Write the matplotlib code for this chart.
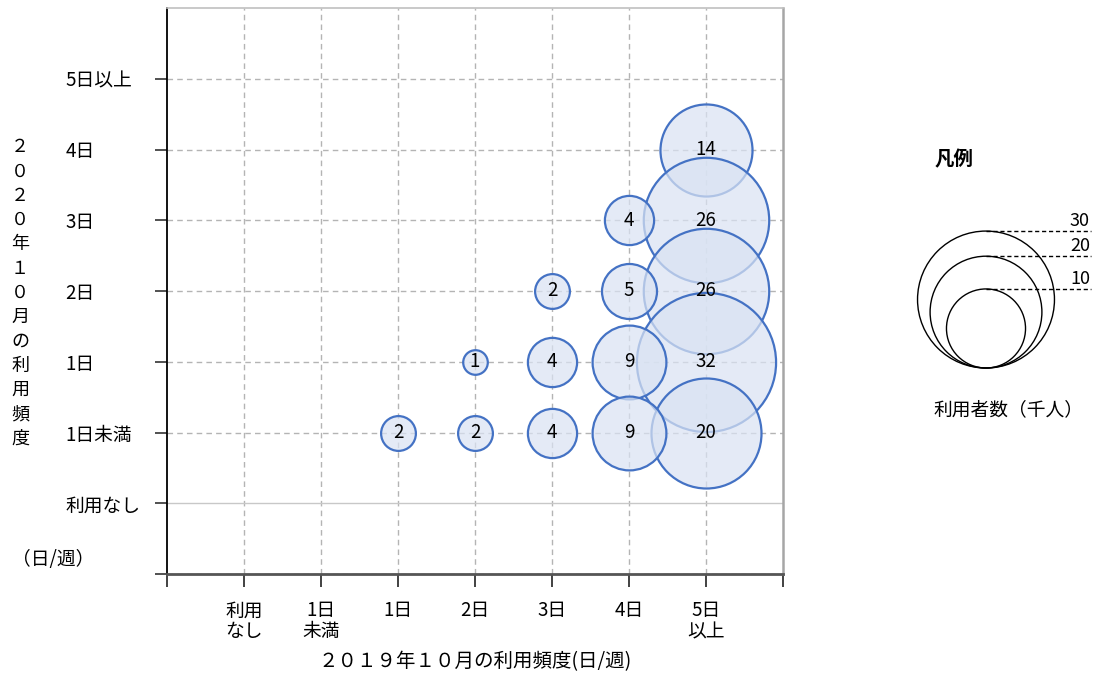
import matplotlib

matplotlib.use("Agg")
import matplotlib.pyplot as plt
import numpy as np

plt.rcParams["font.family"] = ["Noto Sans CJK JP", "DejaVu Sans"]

# data: position on each axis (1 = 利用なし ... 7 = 5日以上) and users (千人)
x_pos = [3, 4, 5, 6, 7, 4, 5, 6, 7, 5, 6, 7, 6, 7, 7]
y_pos = [2, 2, 2, 2, 2, 3, 3, 3, 3, 4, 4, 4, 5, 5, 6]
users = [2, 2, 4, 9, 20, 1, 4, 9, 32, 2, 5, 26, 4, 26, 14]

x_labels = ["利用\nなし", "1日\n未満", "1日", "2日", "3日", "4日", "5日\n以上"]
y_labels = ["利用なし", "1日未満", "1日", "2日", "3日", "4日", "5日以上"]
legend_values = [30, 20, 10]

DPI = 100
R_PER_SQRT = 12.3  # bubble radius in px per sqrt(千人)

fig = plt.figure(figsize=(10.94, 6.75), dpi=DPI)
ax = fig.add_axes([167 / 1094, 1 - 574 / 675, 616 / 1094, 566 / 675])
ax.set_xlim(0, 8)
ax.set_ylim(0, 8)

# grid
for v in range(1, 8):
    ax.axvline(v, color="#b4b4b4", lw=1, ls=(0, (4, 3)), zorder=1)
for v in range(0, 8):
    if v == 1:
        ax.axhline(v, color="#c8c8c8", lw=1, zorder=1)
    else:
        ax.axhline(v, color="#b4b4b4", lw=1, ls=(0, (4, 3)), zorder=1)

# bubbles: draw right-to-left, top-to-bottom
order = sorted(range(len(users)), key=lambda i: (-x_pos[i], -y_pos[i]))
for k, i in enumerate(order):
    r = R_PER_SQRT * np.sqrt(users[i])
    s = (2 * r * 72 / DPI) ** 2
    ax.scatter(x_pos[i], y_pos[i], s=s, facecolors=[(0.855, 0.89, 0.953, 0.72)],
               edgecolors="#4472C4", linewidths=1.6, zorder=2 + k)
    ax.text(x_pos[i], y_pos[i], str(users[i]), ha="center", va="center",
            fontsize=13.5, color="black", zorder=40)

ax.spines["left"].set_color("black")
ax.spines["left"].set_linewidth(1.3)
ax.spines["bottom"].set_color("#555555")
ax.spines["bottom"].set_linewidth(2)
ax.spines["right"].set_color("#a6a6a6")
ax.spines["right"].set_linewidth(1.8)
ax.spines["top"].set_color("#c0c0c0")
ax.spines["top"].set_linewidth(1.2)

ax.set_xticks(range(0, 9))
ax.set_xticklabels([""] + x_labels + [""], fontsize=13.5, linespacing=1.0, va="top")
ax.set_yticks(range(0, 8))
ax.set_yticklabels([""] + y_labels, fontsize=13.5, ha="left")
ax.tick_params(axis="x", direction="out", length=9, width=1.2, color="#222222", pad=10)
ax.tick_params(axis="y", direction="out", length=9, width=1.2, color="#333333", pad=64)

ax.set_xlabel("２０１９年１０月の利用頻度(日/週)", fontsize=14, labelpad=6)

fig.text(20 / 1094, 1 - 293 / 675, "\n".join("２０２０年１０月の利用頻度"),
         ha="center", va="center", fontsize=13, linespacing=1.45)
fig.text(12 / 1094, 1 - 560 / 675, "（日/週）", ha="left", va="center", fontsize=13.5)

# legend
lax = fig.add_axes([0, 0, 1, 1], zorder=-1)
lax.set_xlim(0, 1094)
lax.set_ylim(675, 0)
lax.axis("off")
cx, base = 986, 368
lax.text(935, 160, "凡例", fontsize=14, fontweight="bold", va="center", ha="left")
for v in legend_values:
    r = 12.5 * np.sqrt(v)
    lax.add_patch(plt.Circle((cx, base - r), r, fill=False, ec="black", lw=1))
    top = base - 2 * r
    lax.plot([cx, 1091], [top, top], color="black", lw=1, ls=(0, (3, 2)))
    lax.text(1090, top - 1, str(v), ha="right", va="bottom", fontsize=13)
lax.text(933, 410, "利用者数（千人）", fontsize=13.5, va="center", ha="left")

fig.savefig("out.png", dpi=DPI)
